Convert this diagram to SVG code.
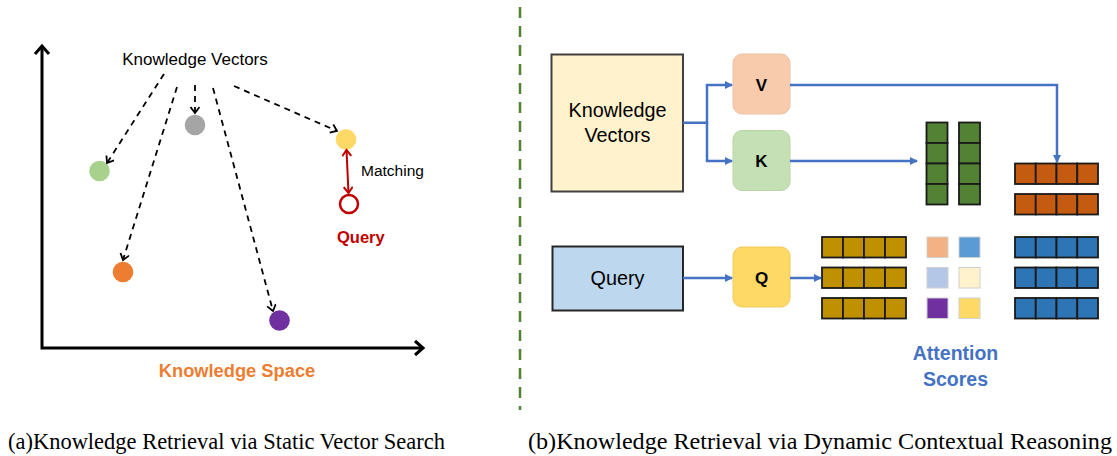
<svg xmlns="http://www.w3.org/2000/svg" width="1117" height="456" viewBox="0 0 1117 456">
<style>
.sans{font-family:"Liberation Sans",Arial,sans-serif}
.serif{font-family:"Liberation Serif","Times New Roman",serif;font-size:23px;fill:#000}
.dash{stroke:#000;stroke-width:1.8;stroke-dasharray:6 5;fill:none}
.blue{stroke:#4472C4;stroke-width:2.5;fill:none}
.cellG{fill:#548235;stroke:#1a1a1a;stroke-width:1.8}
.cellO{fill:#C55A11;stroke:#1a1a1a;stroke-width:1.8}
.cellY{fill:#BF9000;stroke:#1a1a1a;stroke-width:1.8}
.cellB{fill:#2E75B6;stroke:#1a1a1a;stroke-width:1.8}
.score{stroke:#d0d0d0;stroke-width:1}
</style>
<defs>
<marker id="chev" markerUnits="userSpaceOnUse" markerWidth="12" markerHeight="12" refX="7" refY="5" orient="auto-start-reverse" viewBox="0 0 12 12">
<path d="M1,0.5 L7,5 L1,9.5" fill="none" stroke="#000" stroke-width="1.8"/>
</marker>
<marker id="chevR" markerUnits="userSpaceOnUse" markerWidth="12" markerHeight="12" refX="7" refY="5" orient="auto-start-reverse" viewBox="0 0 12 12">
<path d="M1,0.5 L7,5 L1,9.5" fill="none" stroke="#C00000" stroke-width="2"/>
</marker>
<marker id="arrB" markerUnits="userSpaceOnUse" markerWidth="10" markerHeight="10" refX="7" refY="4" orient="auto" viewBox="0 0 10 10">
<path d="M0,0 L8,4 L0,8 z" fill="#4472C4"/>
</marker>
</defs>

<!-- divider -->
<line x1="520" y1="7" x2="520" y2="410" stroke="#548235" stroke-width="2.5" stroke-dasharray="11 8"/>

<!-- left panel: axes -->
<g id="axes" fill="none" stroke="#000" stroke-width="3">
<path d="M42,47 V348 H423"/>
<path d="M35,54 L42,46 L49,54" stroke-linejoin="miter"/>
<path d="M415,341 L423,348 L415,355"/>
</g>

<g id="kv-label"><text class="sans" x="195" y="65" font-size="17" text-anchor="middle">Knowledge Vectors</text></g>

<g id="pt-green"><circle cx="99.5" cy="171" r="10.3" fill="#A9D18E"/></g>
<g id="pt-gray"><circle cx="195" cy="125" r="10.3" fill="#A5A5A5"/></g>
<g id="pt-yellow"><circle cx="346" cy="139.5" r="10.3" fill="#FFD966"/></g>
<g id="pt-orange"><circle cx="123" cy="272" r="10.3" fill="#ED7D31"/></g>
<g id="pt-purple"><circle cx="279.5" cy="320.5" r="10.3" fill="#7030A0"/></g>
<g id="pt-query">
<circle cx="349" cy="204" r="9" fill="#fff" stroke="#C00000" stroke-width="2.5"/>
<text class="sans" x="337" y="243" font-size="16.5" font-weight="bold" fill="#C00000">Query</text>
</g>
<g id="matching-label"><text class="sans" x="361" y="176" font-size="15.5">Matching</text></g>
<g id="space-label"><text class="sans" x="237" y="377" font-size="18.3" font-weight="bold" fill="#ED7D31" text-anchor="middle">Knowledge Space</text></g>

<g id="left-connectors">
<line class="dash" x1="164" y1="74" x2="107" y2="163" marker-end="url(#chev)"/>
<line class="dash" x1="177" y1="87" x2="123" y2="260" marker-end="url(#chev)"/>
<line class="dash" x1="195" y1="85" x2="195" y2="113" marker-end="url(#chev)"/>
<line class="dash" x1="213" y1="88" x2="273" y2="311" marker-end="url(#chev)"/>
<line class="dash" x1="234" y1="86" x2="337" y2="131" marker-end="url(#chev)"/>
<line x1="346.5" y1="150" x2="348.5" y2="193" stroke="#C00000" stroke-width="2" marker-start="url(#chevR)" marker-end="url(#chevR)"/>
</g>

<!-- right panel -->
<g id="kv-box">
<rect x="551.5" y="54.5" width="131.5" height="137" fill="#FFF2CC" stroke="#404040" stroke-width="2"/>
<text class="sans" x="617.5" y="117" font-size="19.8" text-anchor="middle">Knowledge</text>
<text class="sans" x="617.5" y="142" font-size="19.8" text-anchor="middle">Vectors</text>
</g>
<g id="v-box">
<rect x="733" y="54" width="57" height="60" rx="9" fill="#F8CBAD" stroke="#ecc0a2" stroke-width="1"/>
<text class="sans" x="761.5" y="91" font-size="17" font-weight="bold" text-anchor="middle">V</text>
</g>
<g id="k-box">
<rect x="733" y="130.5" width="57" height="60" rx="9" fill="#C5E0B4" stroke="#b8d4a7" stroke-width="1"/>
<text class="sans" x="761.5" y="167" font-size="17" font-weight="bold" text-anchor="middle">K</text>
</g>
<g id="query-box">
<rect x="552.5" y="246.5" width="130.5" height="64" fill="#BDD7EE" stroke="#262626" stroke-width="2"/>
<text class="sans" x="617.5" y="285" font-size="19.8" text-anchor="middle">Query</text>
</g>
<g id="q-box">
<rect x="733" y="247" width="57" height="60" rx="9" fill="#FFD966" stroke="#f0cb5a" stroke-width="1"/>
<text class="sans" x="761.5" y="284" font-size="17" font-weight="bold" text-anchor="middle">Q</text>
</g>

<g id="k-matrix">
<rect class="cellG" x="926.5" y="122.5" width="21" height="20.5"/>
<rect class="cellG" x="926.5" y="143" width="21" height="20.5"/>
<rect class="cellG" x="926.5" y="163.5" width="21" height="20.5"/>
<rect class="cellG" x="926.5" y="184" width="21" height="20.5"/>
<rect class="cellG" x="959" y="122.5" width="21" height="20.5"/>
<rect class="cellG" x="959" y="143" width="21" height="20.5"/>
<rect class="cellG" x="959" y="163.5" width="21" height="20.5"/>
<rect class="cellG" x="959" y="184" width="21" height="20.5"/>
</g>

<g id="v-matrix">
<rect class="cellO" x="1015" y="163.5" width="20.75" height="20.5"/>
<rect class="cellO" x="1035.75" y="163.5" width="20.75" height="20.5"/>
<rect class="cellO" x="1056.5" y="163.5" width="20.75" height="20.5"/>
<rect class="cellO" x="1077.25" y="163.5" width="20.75" height="20.5"/>
<rect class="cellO" x="1015" y="194" width="20.75" height="20.5"/>
<rect class="cellO" x="1035.75" y="194" width="20.75" height="20.5"/>
<rect class="cellO" x="1056.5" y="194" width="20.75" height="20.5"/>
<rect class="cellO" x="1077.25" y="194" width="20.75" height="20.5"/>
</g>

<g id="q-matrix">
<rect class="cellY" x="822" y="237" width="21" height="20.5"/>
<rect class="cellY" x="843" y="237" width="21" height="20.5"/>
<rect class="cellY" x="864" y="237" width="21" height="20.5"/>
<rect class="cellY" x="885" y="237" width="21" height="20.5"/>
<rect class="cellY" x="822" y="267.5" width="21" height="20.5"/>
<rect class="cellY" x="843" y="267.5" width="21" height="20.5"/>
<rect class="cellY" x="864" y="267.5" width="21" height="20.5"/>
<rect class="cellY" x="885" y="267.5" width="21" height="20.5"/>
<rect class="cellY" x="822" y="298" width="21" height="20.5"/>
<rect class="cellY" x="843" y="298" width="21" height="20.5"/>
<rect class="cellY" x="864" y="298" width="21" height="20.5"/>
<rect class="cellY" x="885" y="298" width="21" height="20.5"/>
</g>

<g id="scores">
<rect class="score" x="927" y="237" width="21" height="20.5" fill="#F4B183"/>
<rect class="score" x="959" y="237" width="21" height="20.5" fill="#5B9BD5"/>
<rect class="score" x="927" y="267.5" width="21" height="20.5" fill="#B4C7E7"/>
<rect class="score" x="959" y="267.5" width="21" height="20.5" fill="#FFF2CC"/>
<rect class="score" x="927" y="298" width="21" height="20.5" fill="#7030A0"/>
<rect class="score" x="959" y="298" width="21" height="20.5" fill="#FFD966"/>
<text class="sans" x="955.5" y="360" font-size="19.5" font-weight="bold" fill="#4472C4" text-anchor="middle">Attention</text>
<text class="sans" x="955.5" y="386" font-size="19.5" font-weight="bold" fill="#4472C4" text-anchor="middle">Scores</text>
</g>

<g id="out-matrix">
<rect class="cellB" x="1015" y="237" width="20.75" height="20.5"/>
<rect class="cellB" x="1035.75" y="237" width="20.75" height="20.5"/>
<rect class="cellB" x="1056.5" y="237" width="20.75" height="20.5"/>
<rect class="cellB" x="1077.25" y="237" width="20.75" height="20.5"/>
<rect class="cellB" x="1015" y="267.5" width="20.75" height="20.5"/>
<rect class="cellB" x="1035.75" y="267.5" width="20.75" height="20.5"/>
<rect class="cellB" x="1056.5" y="267.5" width="20.75" height="20.5"/>
<rect class="cellB" x="1077.25" y="267.5" width="20.75" height="20.5"/>
<rect class="cellB" x="1015" y="298" width="20.75" height="20.5"/>
<rect class="cellB" x="1035.75" y="298" width="20.75" height="20.5"/>
<rect class="cellB" x="1056.5" y="298" width="20.75" height="20.5"/>
<rect class="cellB" x="1077.25" y="298" width="20.75" height="20.5"/>
</g>

<g id="right-connectors">
<path class="blue" d="M683,122.7 H707 V85 H732" marker-end="url(#arrB)"/>
<path class="blue" d="M707,122.7 V161 H732" marker-end="url(#arrB)"/>
<path class="blue" d="M790,85 H1057 V162" marker-end="url(#arrB)"/>
<path class="blue" d="M790,161 H917" marker-end="url(#arrB)"/>
<path class="blue" d="M683,278 H732" marker-end="url(#arrB)"/>
<path class="blue" d="M790,278 H821" marker-end="url(#arrB)"/>
</g>

<g id="captions">
<text class="serif" x="8" y="449" textLength="437" lengthAdjust="spacingAndGlyphs">(a)Knowledge Retrieval via Static Vector Search</text>
<text class="serif" x="528" y="449" textLength="584" lengthAdjust="spacingAndGlyphs">(b)Knowledge Retrieval via Dynamic Contextual Reasoning</text>
</g>
</svg>
